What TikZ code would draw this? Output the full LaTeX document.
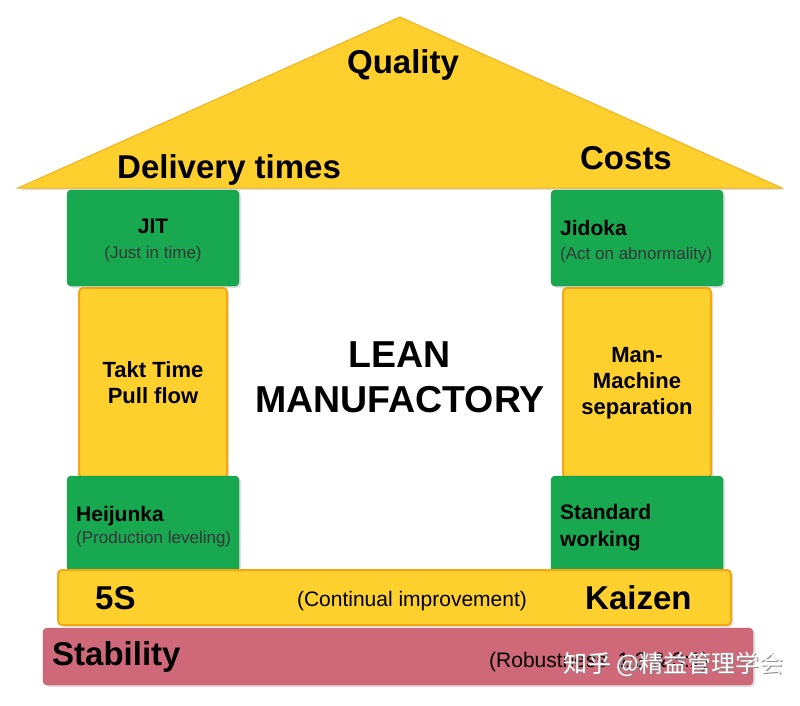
\documentclass[tikz,border=0pt]{standalone}
\usepackage{fontspec}
\setmainfont{Liberation Sans}
\newfontfamily\cjkfont{Noto Sans CJK SC}
\usetikzlibrary{shadows}
\definecolor{roofyellow}{RGB}{253,208,46}
\definecolor{roofline}{RGB}{242,178,28}
\definecolor{pillarline}{RGB}{240,168,20}
\definecolor{pillargreen}{RGB}{24,168,80}
\definecolor{greenline}{RGB}{20,150,70}
\definecolor{basepink}{RGB}{207,104,120}
\definecolor{pinkline}{RGB}{190,90,106}
\definecolor{subgray}{RGB}{55,55,55}
\newcommand{\subline}[1]{\mbox{\fontsize{17}{20}\selectfont\mdseries\color{subgray}#1}}

\begin{document}
\begin{tikzpicture}[x=1pt, y=-1pt,
  font=\bfseries,
  shad/.style={drop shadow={opacity=0.25, shadow xshift=2pt, shadow yshift=-2pt}},
  greenbox/.style={draw=greenline, thin, fill=pillargreen, rounded corners=4pt, minimum width=172pt, minimum height=96pt, inner sep=0pt, shad},
  yellowbox/.style={draw=pillarline, line width=2pt, fill=roofyellow, rounded corners=4pt, minimum width=148pt, minimum height=190pt, inner sep=0pt, align=center, shad},
  bigtxt/.style={font=\fontsize{33}{36}\selectfont\bfseries, inner sep=0pt},
  midtxt/.style={font=\fontsize{22}{26}\selectfont\bfseries, align=center},
  boxtxt/.style={font=\fontsize{21}{25}\selectfont\bfseries, inner sep=0pt},
  lefttxt/.style={boxtxt, anchor=west, align=left},
  thintxt/.style={font=\fontsize{21}{24}\selectfont\mdseries, inner sep=0pt}]

\useasboundingbox (0,0) rectangle (800,705);

% ---- roof ----
\fill[roofyellow, draw=roofline, line width=1pt, shad] (400,17) -- (782,188) -- (18,188) -- cycle;
\node[bigtxt] (quality) at (403,65) {Quality};
\node[bigtxt, anchor=west] (delivery) at (117,170) {Delivery times};
\node[bigtxt] (costs) at (626,158) {Costs};

% ---- left pillar ----
\node[greenbox] (jit) at (153,238) {};
\node[boxtxt, align=center] (jittxt) at (153,241) {JIT\\\subline{(Just in time)}};
\node[yellowbox, midtxt] (takt) at (153,383) {Takt Time\\Pull flow};
\node[greenbox] (heij) at (153,524) {};
\node[lefttxt] (heijtxt) at (76,527) {Heijunka\\[-3pt]\subline{(Production leveling)}};

% ---- right pillar ----
\node[greenbox] (jidoka) at (637,238) {};
\node[lefttxt] (jidokatxt) at (560,242) {Jidoka\\[-1pt]\subline{(Act on abnormality)}};
\node[yellowbox, midtxt] (manmach) at (637,383) {Man-\\Machine\\separation};
\node[greenbox] (stdwork) at (637,524) {};
\node[lefttxt] (stdworktxt) at (560,528) {Standard\\[2pt]working};

% ---- centre ----
\node[font=\fontsize{37.5}{45}\selectfont\bfseries, align=center] (lean) at (400,377) {LEAN\\MANUFACTORY};

% ---- foundation ----
\node[draw=pillarline, line width=2pt, fill=roofyellow, rounded corners=4pt, minimum width=673pt, minimum height=55pt, inner sep=0pt, shad] (kaizenbar) at (394.5,597.5) {};
\node[bigtxt, anchor=west] (fives) at (95,598) {5S};
\node[thintxt] (contimp) at (412,601) {(Continual improvement)};
\node[bigtxt, anchor=west] (kaizen) at (585,598) {Kaizen};

\node[draw=pinkline, fill=basepink, rounded corners=4pt, minimum width=710pt, minimum height=57pt, inner sep=0pt, shad] (stabbar) at (398,656.5) {};
\node[bigtxt, anchor=west] (stab) at (52,657) {Stability};
\node[thintxt, anchor=west] (robust) at (489,662) {(Robustness\enspace 1:3 \& 3:1)};
\node[font=\fontsize{24}{28}\selectfont\cjkfont\mdseries, text=black!45, anchor=west, inner sep=0pt] (markshade) at (564.5,665.5) {知乎 @精益管理学会};
\node[font=\fontsize{24}{28}\selectfont\cjkfont\mdseries, text=white, anchor=west, inner sep=0pt] (mark) at (563,664) {知乎 @精益管理学会};
\end{tikzpicture}
\end{document}
